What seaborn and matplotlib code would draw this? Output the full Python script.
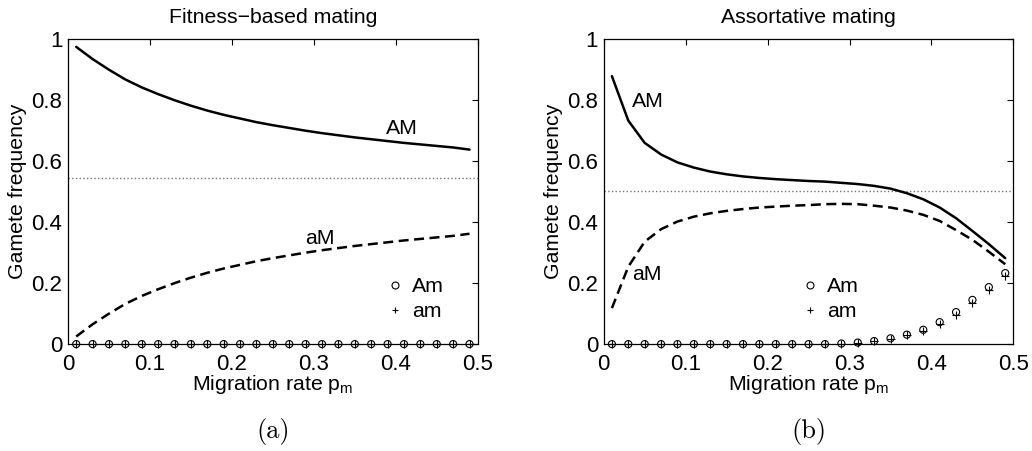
import matplotlib
matplotlib.use("Agg")
from matplotlib import pyplot as plt
from matplotlib.lines import Line2D
import seaborn as sns
import pandas as pd

# migration rate samples
p_m = [0.01, 0.03, 0.05, 0.07, 0.09, 0.11, 0.13, 0.15, 0.17, 0.19, 0.21, 0.23, 0.25,
       0.27, 0.29, 0.31, 0.33, 0.35, 0.37, 0.39, 0.41, 0.43, 0.45, 0.47, 0.49]

# (a) fitness-based mating
fit_AM = [0.975, 0.935, 0.900, 0.868, 0.842, 0.820, 0.800, 0.782, 0.766, 0.752, 0.740, 0.728, 0.718,
          0.709, 0.700, 0.692, 0.685, 0.678, 0.672, 0.666, 0.660, 0.655, 0.650, 0.645, 0.638]
fit_aM = [0.025, 0.065, 0.100, 0.132, 0.158, 0.180, 0.200, 0.218, 0.234, 0.248, 0.260, 0.272, 0.282,
          0.291, 0.300, 0.308, 0.315, 0.322, 0.328, 0.334, 0.340, 0.345, 0.350, 0.355, 0.362]
fit_Am = [0.0] * 25
fit_am = [0.0] * 25
fit_ref = 0.545

# (b) assortative mating
ass_AM = [0.879, 0.733, 0.660, 0.622, 0.596, 0.579, 0.566, 0.557, 0.550, 0.545, 0.541, 0.538, 0.535,
          0.533, 0.529, 0.525, 0.519, 0.510, 0.495, 0.475, 0.448, 0.413, 0.371, 0.328, 0.282]
ass_aM = [0.118, 0.254, 0.336, 0.377, 0.402, 0.418, 0.429, 0.437, 0.443, 0.448, 0.451, 0.454, 0.456,
          0.459, 0.460, 0.459, 0.454, 0.448, 0.438, 0.424, 0.404, 0.374, 0.342, 0.303, 0.262]
ass_Am = [0.0] * 14 + [0.002, 0.005, 0.010, 0.019, 0.031, 0.047, 0.072, 0.105, 0.145, 0.187, 0.233]
ass_am = [0.0] * 14 + [0.002, 0.005, 0.010, 0.018, 0.029, 0.044, 0.067, 0.097, 0.136, 0.176, 0.222]
ass_ref = 0.502

titles = ["Fitness\u2212based mating", "Assortative mating"]
panel_tags = ["(a)", "(b)"]

sns.set_style("white")
plt.rcParams['font.family'] = ['Liberation Sans', 'DejaVu Sans']
plt.rcParams['mathtext.fontset'] = 'custom'
plt.rcParams['mathtext.rm'] = 'Liberation Sans'
plt.rcParams['text.color'] = 'k'
plt.rcParams['axes.labelcolor'] = 'k'
plt.rcParams['mathtext.default'] = 'regular'

FS = 15.3      # titles, labels, annotations
TICK_FS = 16


def draw_panel(ax, AM, aM, Am, am, ref, title, am_lbl, aM_lbl, leg_pos):
    df = pd.DataFrame({'p': p_m, 'AM': AM, 'aM': aM, 'Am': Am, 'am': am})
    ax.axhline(ref, color='0.45', linestyle=':', lw=1.0, zorder=1)
    sns.lineplot(data=df, x='p', y='AM', ax=ax, color='k', lw=1.8, zorder=3)
    sns.lineplot(data=df, x='p', y='aM', ax=ax, color='k', lw=1.8, zorder=3,
                 linestyle=(0, (4, 2.2)))
    sns.scatterplot(data=df, x='p', y='Am', ax=ax, marker='o', s=26, facecolors='none',
                    edgecolor='k', linewidth=0.8, clip_on=False, zorder=4)
    sns.scatterplot(data=df, x='p', y='am', ax=ax, marker='+', s=30, color='k',
                    linewidth=0.8, clip_on=False, zorder=4)

    ax.set_xlim(0, 0.5)
    ax.set_ylim(0, 1)
    ax.set_xticks([0, 0.1, 0.2, 0.3, 0.4, 0.5])
    ax.set_xticklabels(["0", "0.1", "0.2", "0.3", "0.4", "0.5"])
    ax.set_yticks([0, 0.2, 0.4, 0.6, 0.8, 1.0])
    ax.set_yticklabels(["0", "0.2", "0.4", "0.6", "0.8", "1"])
    ax.tick_params(direction='in', length=4, width=0.8, top=True, right=True,
                   labelsize=TICK_FS, colors='k')
    ax.tick_params(axis='x', pad=7)
    ax.tick_params(axis='y', pad=4)
    for sp in ax.spines.values():
        sp.set_color('k')
        sp.set_linewidth(0.9)

    ax.set_title(title, fontsize=FS, pad=12, color='k')
    ax.set_xlabel(r"Migration rate p$_{m}$", fontsize=FS, labelpad=-1)
    ax.set_ylabel("Gamete frequency", fontsize=FS, labelpad=3)

    ax.text(am_lbl[0], am_lbl[1], "AM", fontsize=FS, ha='center', va='center')
    ax.text(aM_lbl[0], aM_lbl[1], "aM", fontsize=FS, ha='center', va='center')

    handles = [Line2D([], [], marker='o', ls='none', mfc='none', mec='k', ms=5, mew=0.8),
               Line2D([], [], marker='+', ls='none', color='k', ms=5, mew=0.8)]
    ax.legend(handles, ["Am", "am"], frameon=False, fontsize=FS, loc='center',
              bbox_to_anchor=leg_pos, handlelength=0.6, handletextpad=0.5,
              labelspacing=0.3, borderpad=0.2)


fig = plt.figure(figsize=(10.32, 4.51), dpi=100)
ax1 = fig.add_axes([0.0659, 0.237, 0.397, 0.676])
ax2 = fig.add_axes([0.585, 0.237, 0.397, 0.676])

draw_panel(ax1, fit_AM, fit_aM, fit_Am, fit_am, fit_ref, titles[0],
           (0.408, 0.707), (0.307, 0.347), (0.85, 0.147))
draw_panel(ax2, ass_AM, ass_aM, ass_Am, ass_am, ass_ref, titles[1],
           (0.054, 0.795), (0.053, 0.227), (0.555, 0.147))

for ax, tag in zip([ax1, ax2], panel_tags):
    ax.text(0.5, -0.285, tag, transform=ax.transAxes, ha='center', va='center',
            fontsize=19, family=['cmr10', 'DejaVu Serif'])

fig.savefig("out.png", dpi=100)
